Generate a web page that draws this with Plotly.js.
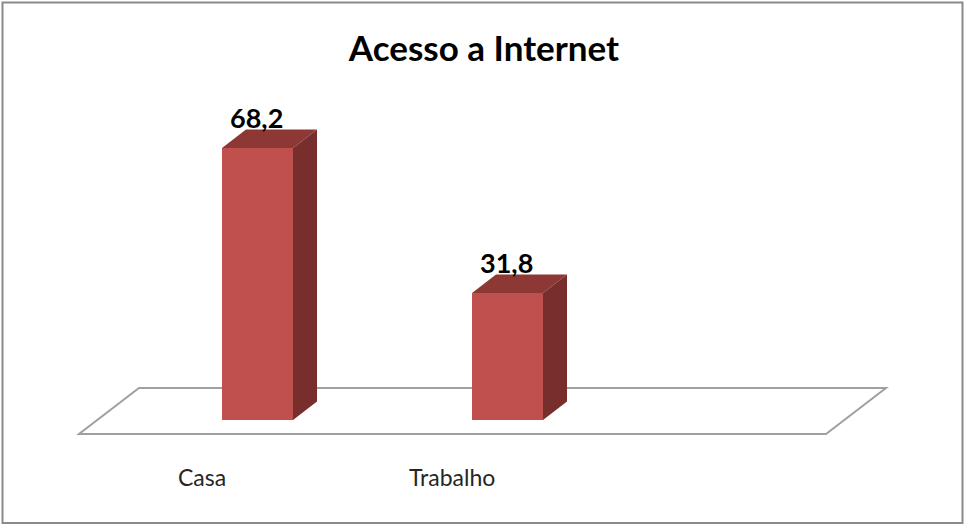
<!DOCTYPE html>
<html>
<head>
<meta charset="utf-8">
<script src="https://cdn.plot.ly/plotly-3.0.1.min.js"></script>
<style>html,body{margin:0;padding:0;background:#fff;}#chart{width:965px;height:526px;}</style>
</head>
<body>
<div id="chart"></div>
<script>
// ---- data ----
const categories = ["Casa", "Trabalho"];
const values = [68.2, 31.8];
const chartTitle = "Acesso a Internet";

// ---- geometry (px -> data units) ----
const W = 965, H = 526;
const pxPerX = 250;          // px per category slot
const pxPerY = 3.99;         // px per value unit
const x0px = 257.5;          // px of first category centre
const y0px = 420;            // px of value 0
const xr = [-x0px / pxPerX, (W - x0px) / pxPerX];
const yr = [-(H - y0px) / pxPerY, y0px / pxPerY];

const barW = 71 / pxPerX;
const dX = 24 / pxPerX, dY = 18.5 / pxPerY;   // bar depth
const xs = categories.map((c, i) => i);

// side faces and top faces from data
const sideX = [], sideY = [], topX = [], topY = [];
xs.forEach((x, i) => {
  const v = values[i], r = x + barW / 2, l = x - barW / 2;
  sideX.push(r, r, r + dX, r + dX, r, null);
  sideY.push(0, v, v + dY, dY, 0, null);
  topX.push(l, r, r + dX, l + dX, l, null);
  topY.push(v, v, v + dY, v + dY, v, null);
});

// floor plane
const fFront = -14 / pxPerY, fBack = 32 / pxPerY;
const fL = (79 - x0px) / pxPerX, fR = (826 - x0px) / pxPerX, fdx = 60 / pxPerX;

const traces = [
  {type: "bar", x: xs, y: values, width: barW, marker: {color: "#C0504D", line: {width: 0}},
   hoverinfo: "none"},
  {type: "scatter", mode: "lines", x: sideX, y: sideY, fill: "toself", fillcolor: "#772E2C",
   line: {width: 0, color: "#772E2C"}, hoverinfo: "none"},
  {type: "scatter", mode: "lines", x: topX, y: topY, fill: "toself", fillcolor: "#8E3836",
   line: {width: 0, color: "#8E3836"}, hoverinfo: "none"}
];

const annotations = [];
xs.forEach((x, i) => {
  annotations.push({x: x, y: values[i], xref: "x", yref: "y", text: values[i].toFixed(1).replace(".", ","),
    showarrow: false, yanchor: "bottom", xanchor: "center", yshift: 12, xshift: -1,
    font: {family: "Lato, 'Open Sans', sans-serif", size: 27, color: "#000", weight: "bold"}});
  annotations.push({x: x, y: -14 / pxPerY, xref: "x", yref: "y", text: categories[i],
    showarrow: false, yanchor: "middle", xanchor: "center", xshift: -55.5, yshift: -43,
    font: {family: "Lato, 'Open Sans', sans-serif", size: 23, color: "#262626"}});
});

const layout = {
  width: W, height: H,
  margin: {l: 0, r: 0, t: 0, b: 0},
  paper_bgcolor: "#fff", plot_bgcolor: "#fff",
  showlegend: false,
  title: {text: "<b>" + chartTitle + "</b>", x: 0.5015, xanchor: "center", y: 0.908, yanchor: "middle",
    font: {family: "Lato, 'Open Sans', sans-serif", size: 35, color: "#000"}},
  xaxis: {range: xr, visible: false, fixedrange: true},
  yaxis: {range: yr, visible: false, fixedrange: true},
  shapes: [
    {type: "path", xref: "x", yref: "y", layer: "below",
     path: `M ${fL} ${fFront} L ${fR} ${fFront} L ${fR + fdx} ${fBack} L ${fL + fdx} ${fBack} Z`,
     line: {color: "#a0a0a0", width: 2}, fillcolor: "rgba(0,0,0,0)"},
    {type: "rect", xref: "paper", yref: "paper", layer: "above",
     x0: 2.5 / W, x1: 962.5 / W, y0: 1 - 523 / H, y1: 1 - 2.5 / H,
     line: {color: "#8a8a8a", width: 2}, fillcolor: "rgba(0,0,0,0)"}
  ],
  annotations: annotations
};

Plotly.newPlot("chart", traces, layout, {staticPlot: true, displayModeBar: false});
</script>
</body>
</html>
